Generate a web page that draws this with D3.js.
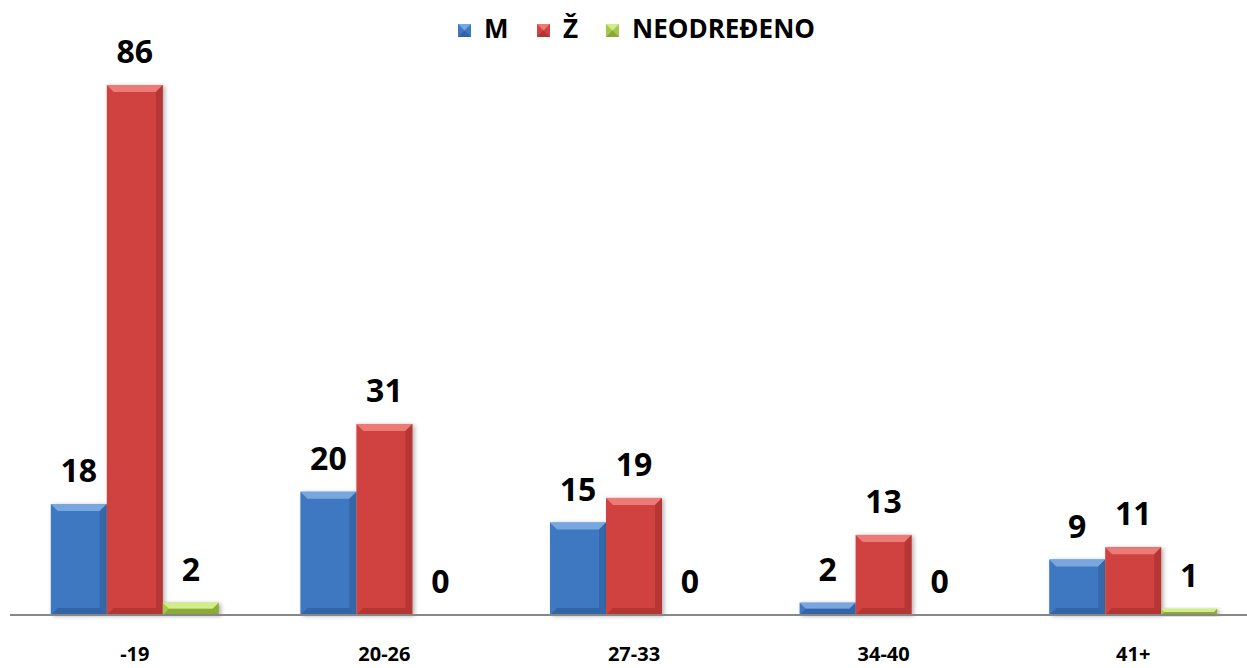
<!DOCTYPE html>
<html><head><meta charset="utf-8">
<script src="https://cdn.jsdelivr.net/npm/d3@7"></script>
<style>body{margin:0;background:#fff}svg{display:block}</style>
</head><body>
<script>
const categories = ["-19", "20-26", "27-33", "34-40", "41+"];
const seriesNames = ["M", "Ž", "NEODREĐENO"];
const valuesM = [18, 20, 15, 2, 9];
const valuesZ = [86, 31, 19, 13, 11];
const valuesN = [2, 0, 0, 0, 1];
const colors = ["#3e78c1", "#d0423f", "#a6c84b"];
const light = ["#78a6de", "#ec7a77", "#d3ec8c"];
const dark = ["#2a5591", "#9c2a29", "#74912c"];

const W = 1247, H = 668;
const svg = d3.select("body").append("svg").attr("width", W).attr("height", H);
const font = "'Open Sans', 'Liberation Sans', sans-serif";

const series = [valuesM, valuesZ, valuesN];
const x0 = d3.scaleBand().domain(categories).range([10, 1258]).paddingInner(0).paddingOuter(0);
const x1 = d3.scaleBand().domain(seriesNames).range([40.8, 208.8]);
const y = d3.scaleLinear().domain([0, 86]).range([615, 85]);

const defs = svg.append("defs");
const f = defs.append("filter").attr("id", "sh").attr("x", "-20%").attr("y", "-20%").attr("width", "150%").attr("height", "150%");
f.append("feDropShadow").attr("dx", 2).attr("dy", 1).attr("stdDeviation", 2).attr("flood-color", "#000").attr("flood-opacity", 0.3);

const bw = x1.bandwidth();
categories.forEach((c, i) => {
  const g = svg.append("g").attr("transform", `translate(${x0(c)},0)`);
  seriesNames.forEach((s, j) => {
    const v = series[j][i];
    const bx = x1(s), by = y(v), bh = y(0) - y(v);
    if (bh > 0) {
      const b = Math.min(7, bh / 2, bw / 2);
      const bg = g.append("g").attr("filter", "url(#sh)");
      bg.append("rect").attr("x", bx).attr("y", by).attr("width", bw).attr("height", bh).attr("fill", colors[j]);
      const x2 = bx + bw, y2 = by + bh;
      bg.append("path").attr("d", `M${bx},${by}L${x2},${by}L${x2-b},${by+b}L${bx+b},${by+b}Z`).attr("fill", light[j]);
      bg.append("path").attr("d", `M${x2},${by}L${x2-b},${by+b}L${x2-b},${y2-b}L${x2},${y2}Z`).attr("fill", dark[j]).attr("opacity", 0.5);
      bg.append("path").attr("d", `M${bx},${y2}L${bx+b},${y2-b}L${x2-b},${y2-b}L${x2},${y2}Z`).attr("fill", dark[j]).attr("opacity", 0.55);
    }
    g.append("text").attr("x", bx + bw / 2).attr("y", y(v) - 22)
      .attr("text-anchor", "middle").attr("font-family", font).attr("font-weight", "bold")
      .attr("font-size", 32).attr("fill", "#000").text(v);
  });
});

// axis
const xAxis = d3.axisBottom(x0).tickSize(0).tickPadding(0);
const ax = svg.append("g").attr("transform", "translate(0,615)").call(xAxis);
ax.select(".domain").attr("d", "M10,0H1247").attr("stroke", "#878787").attr("stroke-width", 2);
ax.selectAll("text").attr("dy", null).attr("y", 46).attr("font-family", font).attr("font-weight", "bold").attr("font-size", 20).attr("fill", "#000");

// legend
const legX = [458, 537, 606];
const lg = svg.append("g");
seriesNames.forEach((s, j) => {
  const lx = legX[j], ly = 24, sz = 13;
  lg.append("rect").attr("x", lx).attr("y", ly).attr("width", sz).attr("height", sz).attr("fill", colors[j]);
  lg.append("path").attr("d", `M${lx},${ly}L${lx+sz},${ly}L${lx+sz/2},${ly+sz/2}Z`).attr("fill", light[j]);
  lg.append("path").attr("d", `M${lx},${ly+sz}L${lx+sz},${ly+sz}L${lx+sz/2},${ly+sz/2}Z`).attr("fill", dark[j]).attr("opacity", 0.6);
  lg.append("text").attr("x", lx + 26).attr("y", 38).attr("font-family", font).attr("font-weight", "bold")
    .attr("font-size", 26).attr("fill", "#000").text(s);
});
</script>
</body></html>
